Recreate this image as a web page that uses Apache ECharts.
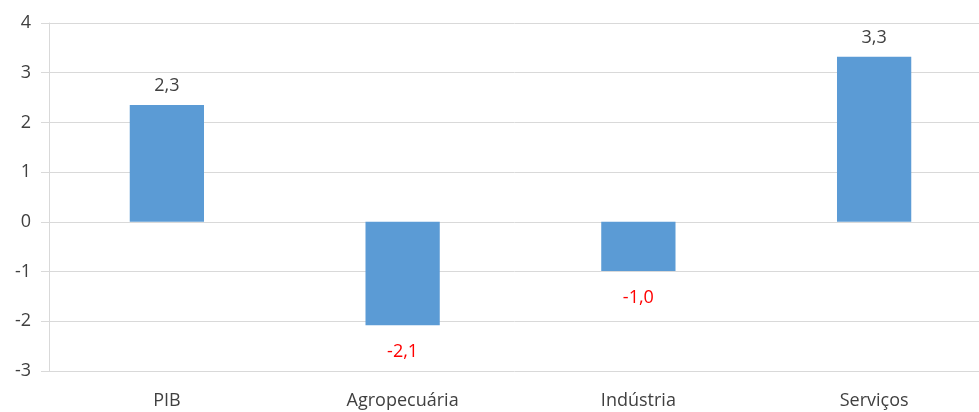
<!DOCTYPE html>
<html>
<head>
<meta charset="utf-8">
<script src="https://cdn.jsdelivr.net/npm/echarts@6/dist/echarts.min.js"></script>
<style>
  html, body { margin: 0; padding: 0; background: #fff; overflow: hidden; }
  #chart { width: 979px; height: 412px; }
</style>
</head>
<body>
<div id="chart"></div>
<script>
// dados
var categorias = ['PIB', 'Agropecuária', 'Indústria', 'Serviços'];
var valores = [2.35, -2.08, -0.99, 3.32];
var rotulos = ['2,3', '-2,1', '-1,0', '3,3'];
var yTicks = [-3, -2, -1, 0, 1, 2, 3, 4];

var myChart = echarts.init(document.getElementById('chart'));

var fonte = '"Open Sans", sans-serif';

var serieData = valores.map(function (v, i) {
    return {
        value: v,
        label: {
            position: v < 0 ? 'bottom' : 'top',
            distance: v < 0 ? 18 : 10,
            color: v < 0 ? '#ff0000' : '#404040',
            formatter: rotulos[i]
        }
    };
});

var option = {
    animation: false,
    grid: {
        left: 49,
        right: -13,
        top: 23,
        bottom: 41,
        outerBoundsMode: 'none'
    },
    xAxis: {
        type: 'category',
        data: categorias,
        axisLine: { show: false, onZero: false },
        axisTick: { show: false },
        axisLabel: {
            color: '#404040',
            fontFamily: fonte,
            fontSize: 18,
            margin: 21
        }
    },
    yAxis: {
        type: 'value',
        min: yTicks[0],
        max: yTicks[yTicks.length - 1],
        interval: 1,
        axisLine: { show: true, lineStyle: { color: '#d9d9d9' } },
        axisTick: { show: true, length: 8, lineStyle: { color: '#d9d9d9' } },
        splitLine: { lineStyle: { color: '#d9d9d9' } },
        axisLabel: {
            color: '#404040',
            fontFamily: fonte,
            fontSize: 18,
            margin: 18
        }
    },
    series: [{
        type: 'bar',
        barWidth: '31.5%',
        data: serieData,
        itemStyle: { color: '#5b9bd5' },
        label: {
            show: true,
            fontFamily: fonte,
            fontSize: 18
        }
    }]
};

myChart.setOption(option);
</script>
</body>
</html>
